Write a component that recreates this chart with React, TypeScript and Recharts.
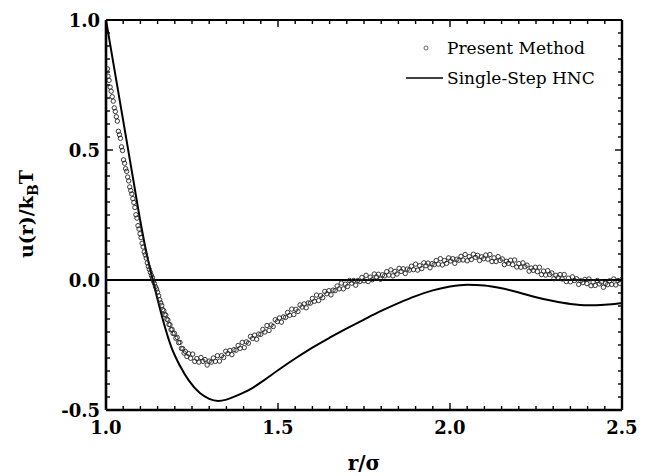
import React from "react";
import {
  ComposedChart,
  Line,
  Scatter,
  XAxis,
  YAxis,
  ReferenceLine,
  Legend,
  Label,
} from "recharts";

// ---- data ----
// "Present Method" points: [r/sigma, u(r)/kBT]
const presentMethod: [number, number][] = [
  [1.004, 0.812], [1.006, 0.784], [1.009, 0.768], [1.012, 0.742], [1.015, 0.726],
  [1.018, 0.705], [1.021, 0.688], [1.024, 0.662], [1.027, 0.648], [1.03, 0.628],
  [1.033, 0.611], [1.036, 0.572], [1.039, 0.559], [1.042, 0.545], [1.045, 0.512],
  [1.048, 0.498], [1.051, 0.462], [1.054, 0.449], [1.057, 0.428], [1.06, 0.418],
  [1.063, 0.396], [1.066, 0.381], [1.069, 0.358], [1.072, 0.344], [1.075, 0.331],
  [1.078, 0.313], [1.081, 0.298], [1.084, 0.279], [1.087, 0.251], [1.09, 0.238],
  [1.093, 0.209], [1.096, 0.196], [1.099, 0.178], [1.102, 0.163], [1.105, 0.141],
  [1.108, 0.127], [1.111, 0.108], [1.114, 0.097], [1.117, 0.084], [1.12, 0.066],
  [1.123, 0.052], [1.126, 0.041], [1.129, 0.029], [1.132, 0.018], [1.135, 0.009],
  [1.138, -0.004], [1.141, -0.014], [1.144, -0.026], [1.147, -0.035], [1.15, -0.047],
  [1.153, -0.061], [1.156, -0.076], [1.159, -0.088], [1.162, -0.098], [1.165, -0.114],
  [1.168, -0.118], [1.171, -0.133], [1.174, -0.135], [1.177, -0.151], [1.18, -0.154],
  [1.183, -0.171], [1.186, -0.172], [1.189, -0.191], [1.192, -0.19], [1.195, -0.206],
  [1.199, -0.205], [1.203, -0.224], [1.207, -0.221], [1.211, -0.241], [1.215, -0.24],
  [1.219, -0.263], [1.223, -0.264], [1.227, -0.281], [1.231, -0.275], [1.235, -0.294],
  [1.24, -0.283], [1.246, -0.301], [1.252, -0.285], [1.258, -0.313], [1.264, -0.302],
  [1.27, -0.316], [1.276, -0.298], [1.282, -0.313], [1.288, -0.306], [1.294, -0.327],
  [1.3, -0.312], [1.306, -0.316], [1.312, -0.3], [1.318, -0.313], [1.324, -0.291],
  [1.33, -0.312], [1.336, -0.291], [1.342, -0.298], [1.348, -0.274], [1.354, -0.283],
  [1.36, -0.271], [1.366, -0.287], [1.372, -0.268], [1.378, -0.27], [1.384, -0.252],
  [1.39, -0.263], [1.396, -0.24], [1.402, -0.26], [1.408, -0.238], [1.414, -0.243],
  [1.42, -0.217], [1.426, -0.225], [1.432, -0.212], [1.438, -0.228], [1.444, -0.208],
  [1.45, -0.209], [1.456, -0.19], [1.462, -0.2], [1.468, -0.175], [1.474, -0.194],
  [1.48, -0.173], [1.486, -0.179], [1.492, -0.153], [1.498, -0.16], [1.504, -0.146],
  [1.51, -0.162], [1.516, -0.142], [1.522, -0.144], [1.528, -0.125], [1.534, -0.136],
  [1.54, -0.112], [1.546, -0.133], [1.552, -0.113], [1.558, -0.121], [1.564, -0.096],
  [1.57, -0.104], [1.576, -0.092], [1.582, -0.107], [1.588, -0.088], [1.594, -0.089],
  [1.6, -0.071], [1.606, -0.082], [1.612, -0.058], [1.618, -0.079], [1.624, -0.06],
  [1.63, -0.068], [1.636, -0.044], [1.642, -0.053], [1.648, -0.041], [1.654, -0.057],
  [1.66, -0.039], [1.666, -0.041], [1.672, -0.023], [1.678, -0.034], [1.684, -0.012],
  [1.69, -0.034], [1.696, -0.016], [1.702, -0.025], [1.708, -0.002], [1.714, -0.012],
  [1.72, -0.002], [1.726, -0.02], [1.732, -0.002], [1.738, -0.006], [1.744, 0.01],
  [1.75, -0.003], [1.756, 0.018], [1.762, -0.006], [1.768, 0.011], [1.774, 0.001],
  [1.78, 0.023], [1.786, 0.012], [1.792, 0.022], [1.798, 0.003], [1.804, 0.02],
  [1.81, 0.016], [1.816, 0.032], [1.822, 0.019], [1.828, 0.039], [1.834, 0.016],
  [1.84, 0.033], [1.846, 0.023], [1.852, 0.045], [1.858, 0.033], [1.864, 0.043],
  [1.87, 0.025], [1.876, 0.042], [1.882, 0.038], [1.888, 0.053], [1.894, 0.04],
  [1.9, 0.061], [1.906, 0.038], [1.912, 0.055], [1.918, 0.044], [1.924, 0.066],
  [1.93, 0.055], [1.936, 0.065], [1.942, 0.047], [1.948, 0.063], [1.954, 0.059],
  [1.96, 0.075], [1.966, 0.061], [1.972, 0.082], [1.978, 0.058], [1.984, 0.075],
  [1.99, 0.064], [1.996, 0.085], [2.002, 0.073], [2.008, 0.082], [2.014, 0.064],
  [2.02, 0.08], [2.026, 0.076], [2.032, 0.091], [2.038, 0.077], [2.044, 0.098],
  [2.05, 0.074], [2.056, 0.09], [2.062, 0.079], [2.068, 0.099], [2.074, 0.087],
  [2.08, 0.095], [2.086, 0.075], [2.092, 0.089], [2.098, 0.082], [2.104, 0.096],
  [2.11, 0.08], [2.116, 0.098], [2.122, 0.071], [2.128, 0.085], [2.134, 0.071],
  [2.14, 0.09], [2.146, 0.075], [2.152, 0.081], [2.158, 0.059], [2.164, 0.072],
  [2.17, 0.064], [2.176, 0.076], [2.182, 0.059], [2.188, 0.077], [2.194, 0.05],
  [2.2, 0.063], [2.206, 0.049], [2.212, 0.066], [2.218, 0.051], [2.224, 0.057],
  [2.23, 0.034], [2.236, 0.046], [2.242, 0.037], [2.248, 0.049], [2.254, 0.032],
  [2.26, 0.049], [2.266, 0.021], [2.272, 0.034], [2.278, 0.019], [2.284, 0.036],
  [2.29, 0.021], [2.296, 0.027], [2.302, 0.005], [2.308, 0.018], [2.314, 0.009],
  [2.32, 0.021], [2.326, 0.004], [2.332, 0.021], [2.338, -0.006], [2.344, 0.007],
  [2.35, -0.007], [2.356, 0.012], [2.362, -0.002], [2.368, 0.005], [2.374, -0.017],
  [2.38, -0.003], [2.386, -0.01], [2.392, 0.002], [2.398, -0.014], [2.404, 0.004],
  [2.41, -0.022], [2.416, -0.008], [2.422, -0.021], [2.428, -0.002], [2.434, -0.015],
  [2.44, -0.008], [2.446, -0.028], [2.452, -0.013], [2.458, -0.018], [2.464, -0.003],
  [2.47, -0.017], [2.476, 0.004], [2.482, -0.019], [2.488, -0.002], [2.494, -0.013],
  [2.5, 0.003],
];

// "Single-Step HNC" curve
const hncR = [
  1.0, 1.02, 1.04, 1.06, 1.08, 1.1, 1.12, 1.136, 1.15, 1.17, 1.19, 1.215, 1.24,
  1.273, 1.3, 1.326, 1.35, 1.38, 1.42, 1.46, 1.5, 1.55, 1.6, 1.65, 1.7, 1.75, 1.8,
  1.85, 1.9, 1.95, 2.0, 2.05, 2.1, 2.15, 2.2, 2.25, 2.3, 2.35, 2.4, 2.45, 2.5,
];
const hncU = [
  1.0, 0.845, 0.69, 0.535, 0.38, 0.225, 0.09, 0.0, -0.075, -0.175, -0.258, -0.33,
  -0.385, -0.435, -0.457, -0.465, -0.46, -0.445, -0.42, -0.385, -0.347, -0.302,
  -0.26, -0.222, -0.186, -0.152, -0.119, -0.089, -0.062, -0.04, -0.025, -0.018,
  -0.021, -0.032, -0.048, -0.066, -0.081, -0.092, -0.097, -0.095, -0.088,
];

const xTicks = [
  1.0, 1.05, 1.1, 1.15, 1.2, 1.25, 1.3, 1.35, 1.4, 1.45, 1.5, 1.55, 1.6, 1.65, 1.7,
  1.75, 1.8, 1.85, 1.9, 1.95, 2.0, 2.05, 2.1, 2.15, 2.2, 2.25, 2.3, 2.35, 2.4, 2.45, 2.5,
];
const yTicks = [
  -0.5, -0.45, -0.4, -0.35, -0.3, -0.25, -0.2, -0.15, -0.1, -0.05, 0.0, 0.05, 0.1,
  0.15, 0.2, 0.25, 0.3, 0.35, 0.4, 0.45, 0.5, 0.55, 0.6, 0.65, 0.7, 0.75, 0.8, 0.85,
  0.9, 0.95, 1.0,
];
const seriesNames = ["Present Method", "Single-Step HNC"];
const xTitle = "r/σ";

const presentData = presentMethod.map(([r, u]) => ({ r, u }));
const hncData = hncR.map((r, i) => ({ r, u: hncU[i] }));

const FONT = '"DejaVu Serif", serif';
const isMajor = (v: number) => Math.abs(v * 2 - Math.round(v * 2)) < 1e-6;
const fmt = (v: number) => (Math.abs(v) < 1e-9 ? "0.0" : v.toFixed(1));
const MINOR = 4;
const MAJOR = 7;
const TW = 1.4;

const BottomTick = (p: any) => {
  const v = p.payload.value;
  const major = isMajor(v);
  return (
    <g>
      <line x1={p.x} x2={p.x} y1={p.y} y2={p.y - (major ? MAJOR : MINOR)} stroke="#000" strokeWidth={TW} />
      {major && (
        <text x={p.x} y={p.y + 24} textAnchor="middle" fontFamily={FONT} fontWeight="bold" fontSize={18} fill="#000">
          {fmt(v)}
        </text>
      )}
    </g>
  );
};
const TopTick = (p: any) => {
  const major = isMajor(p.payload.value);
  return <line x1={p.x} x2={p.x} y1={p.y} y2={p.y + (major ? MAJOR : MINOR)} stroke="#000" strokeWidth={TW} />;
};
const LeftTick = (p: any) => {
  const v = p.payload.value;
  const major = isMajor(v);
  return (
    <g>
      <line x1={p.x} x2={p.x + (major ? MAJOR : MINOR)} y1={p.y} y2={p.y} stroke="#000" strokeWidth={TW} />
      {major && (
        <text x={p.x - 6} y={p.y + 6.5} textAnchor="end" fontFamily={FONT} fontWeight="bold" fontSize={18} fill="#000">
          {fmt(v)}
        </text>
      )}
    </g>
  );
};
const RightTick = (p: any) => {
  const major = isMajor(p.payload.value);
  return <line x1={p.x} x2={p.x - (major ? MAJOR : MINOR)} y1={p.y} y2={p.y} stroke="#000" strokeWidth={TW} />;
};

const Dot = (p: any) => (
  <circle cx={p.cx} cy={p.cy} r={2.2} fill="none" stroke="#222" strokeWidth={0.9} />
);

const LegendBox = () => (
  <div style={{ position: "relative", width: 230, height: 60, fontFamily: FONT, fontSize: 17, color: "#000" }}>
    <svg width={50} height={60} style={{ position: "absolute", left: 0, top: 0 }}>
      <circle cx={26} cy={18} r={2} fill="none" stroke="#555" strokeWidth={0.9} />
      <line x1={6} x2={43} y1={48} y2={48} stroke="#000" strokeWidth={1.6} />
    </svg>
    <div style={{ position: "absolute", left: 47, top: 7, lineHeight: "22px", whiteSpace: "nowrap" }}>{seriesNames[0]}</div>
    <div style={{ position: "absolute", left: 47, top: 37, lineHeight: "22px", whiteSpace: "nowrap" }}>{seriesNames[1]}</div>
  </div>
);

const YTitle = () => (
  <text
    transform="translate(33, 214) rotate(-90)"
    x={0}
    y={0}
    textAnchor="middle"
    fontFamily={FONT}
    fontWeight="bold"
    fontSize={19}
    fill="#000"
  >
    u(r)/k
    <tspan dy={5} fontSize={14}>B</tspan>
    <tspan dy={-5}>T</tspan>
  </text>
);

const XTitle = (props: any) => {
  const vb = props.viewBox || { x: 106, width: 516 };
  return (
    <text x={vb.x + vb.width / 2} y={470} textAnchor="middle" fontFamily={FONT} fontWeight="bold" fontSize={20} fill="#000">
      {xTitle}
    </text>
  );
};

export default function App() {
  return (
    <div style={{ position: "absolute", left: 0, top: 0, width: 653, height: 476, background: "#fff" }}>
      <ComposedChart
        width={653}
        height={476}
        margin={{ top: 20, right: 31, bottom: 0, left: 0 }}
        style={{ fontFamily: FONT }}
      >
        <XAxis
          xAxisId="b"
          dataKey="r"
          type="number"
          domain={[1, 2.5]}
          allowDataOverflow
          ticks={xTicks}
          interval={0}
          tickSize={0}
          tickMargin={0}
          tickLine={false}
          tick={BottomTick}
          height={66}
          axisLine={{ stroke: "#000", strokeWidth: 2.6 }}
        >
          <Label content={XTitle} />
        </XAxis>
        <XAxis
          xAxisId="t"
          orientation="top"
          mirror
          dataKey="r"
          type="number"
          domain={[1, 2.5]}
          allowDataOverflow
          ticks={xTicks}
          interval={0}
          tickSize={0}
          tickMargin={0}
          tickLine={false}
          tick={TopTick}
          height={20}
          axisLine={{ stroke: "#000", strokeWidth: 2.2 }}
        />
        <YAxis
          yAxisId="l"
          type="number"
          domain={[-0.5, 1]}
          allowDataOverflow
          ticks={yTicks}
          interval={0}
          tickSize={0}
          tickMargin={0}
          tickLine={false}
          tick={LeftTick}
          width={106}
          axisLine={{ stroke: "#000", strokeWidth: 2.6 }}
        >
          <Label content={YTitle} />
        </YAxis>
        <YAxis
          yAxisId="r"
          orientation="right"
          mirror
          type="number"
          domain={[-0.5, 1]}
          allowDataOverflow
          ticks={yTicks}
          interval={0}
          tickSize={0}
          tickMargin={0}
          tickLine={false}
          tick={RightTick}
          width={20}
          axisLine={{ stroke: "#000", strokeWidth: 2.4 }}
        />
        <ReferenceLine xAxisId="b" yAxisId="l" y={0} stroke="#000" strokeWidth={2} />
        {/* invisible copy so the top/right frame axes are bound to data */}
        <Line
          xAxisId="t"
          yAxisId="r"
          data={hncData}
          dataKey="u"
          stroke="none"
          dot={false}
          activeDot={false}
          legendType="none"
          isAnimationActive={false}
        />
        <Line
          xAxisId="b"
          yAxisId="l"
          data={hncData}
          dataKey="u"
          name={seriesNames[1]}
          type="monotone"
          stroke="#000"
          strokeWidth={2}
          dot={false}
          activeDot={false}
          isAnimationActive={false}
        />
        <Scatter
          xAxisId="b"
          yAxisId="l"
          data={presentData}
          dataKey="u"
          name={seriesNames[0]}
          shape={Dot}
          isAnimationActive={false}
        />
        <Legend
          verticalAlign="middle"
          align="center"
          content={LegendBox}
          wrapperStyle={{ position: "absolute", left: 400, top: 30, width: 230, height: 60 }}
        />
      </ComposedChart>
    </div>
  );
}
